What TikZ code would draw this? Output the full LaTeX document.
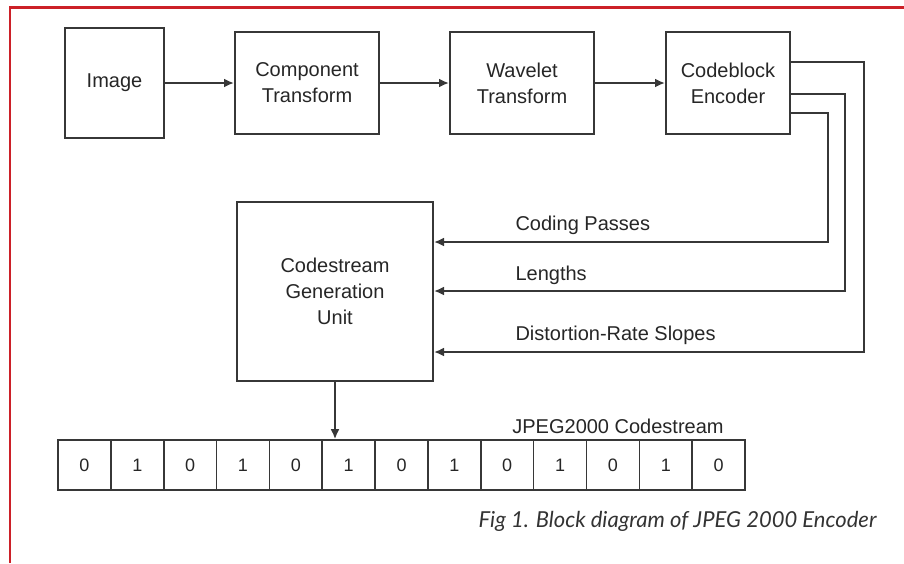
\documentclass[tikz,border=0pt]{standalone}
\usepackage{fontspec}
\setmainfont{Liberation Sans}
\newfontfamily\capfont{Lato}
\usepackage{tikz}
\usetikzlibrary{arrows.meta, positioning, calc}
\usepackage{xcolor}
\definecolor{framered}{RGB}{204,32,40}
\definecolor{linegray}{RGB}{55,55,55}
\tikzstyle{block} = [rectangle, draw=linegray, line width=2pt, minimum width=144pt, minimum height=102pt, inner sep=0pt, text centered, align=center]
\tikzstyle{bitcell} = [rectangle, draw=linegray, line width=1.6pt, minimum width=52.85pt, minimum height=50pt, inner sep=0pt]
\tikzstyle{arrow} = [line width=2pt, draw=linegray, -{Latex[length=10pt,width=9pt]}]

\begin{document}
\begin{tikzpicture}[x=1pt, y=-1pt, every node/.style={font=\fontsize{20}{26}\selectfont, text=black!85}]
    \useasboundingbox (0,0) rectangle (904,563);
    % Frame
    \draw[framered, line width=2.5pt] (10,563) -- (10,7.5) -- (904,7.5);

    % Top row
    \node (img) [block, minimum width=99pt, minimum height=110pt] at (114.5,83) {Image};
    \node (ct) [block] at (307,83) {Component\\Transform};
    \node (wt) [block] at (522,83) {Wavelet\\Transform};
    \node (cbe) [block, minimum width=124pt] at (728,83) {Codeblock\\Encoder};

    \draw [arrow] (img) -- (ct);
    \draw [arrow] (ct) -- (wt);
    \draw [arrow] (wt) -- (cbe);

    % Codestream generation
    \node (cgu) [block, minimum width=196pt, minimum height=179pt] at (335,291.5) {Codestream\\Generation\\Unit};

    \draw [arrow] ([yshift=-30pt]cbe.east) -- ++(37pt,0) |- ([yshift=49.5pt]cgu.east);
    \draw [arrow] ([yshift=-11pt]cbe.east) -- ++(54pt,0) |- ([yshift=0.5pt]cgu.east);
    \draw [arrow] ([yshift=21pt]cbe.east) -- ++(73pt,0) |- ([yshift=-60.5pt]cgu.east);

    \node (lpass) [anchor=west] at (512,225) {Coding Passes};
    \node (llen) [anchor=west] at (512,275) {Lengths};
    \node (lslope) [anchor=west] at (512,335) {Distortion-Rate Slopes};

    % Codestream bits
    \foreach \b [count=\i] in {0,1,0,1,0,1,0,1,0,1,0,1,0}
        \node (b\i) [bitcell, font=\fontsize{18}{20}\selectfont] at ({58+52.85*(\i-0.5)},465) {\b};
    \draw [arrow] (cgu.south) -- (cgu.south |- b6.north);
    \node (cs) at (618,426) {JPEG2000 Codestream};

    % Caption
    \node (cap) [anchor=east, text=black!80, font=\capfont\itshape\fontsize{22}{26}\selectfont] at (880,521) {Fig 1. Block diagram of JPEG 2000 Encoder};
\end{tikzpicture}
\end{document}
